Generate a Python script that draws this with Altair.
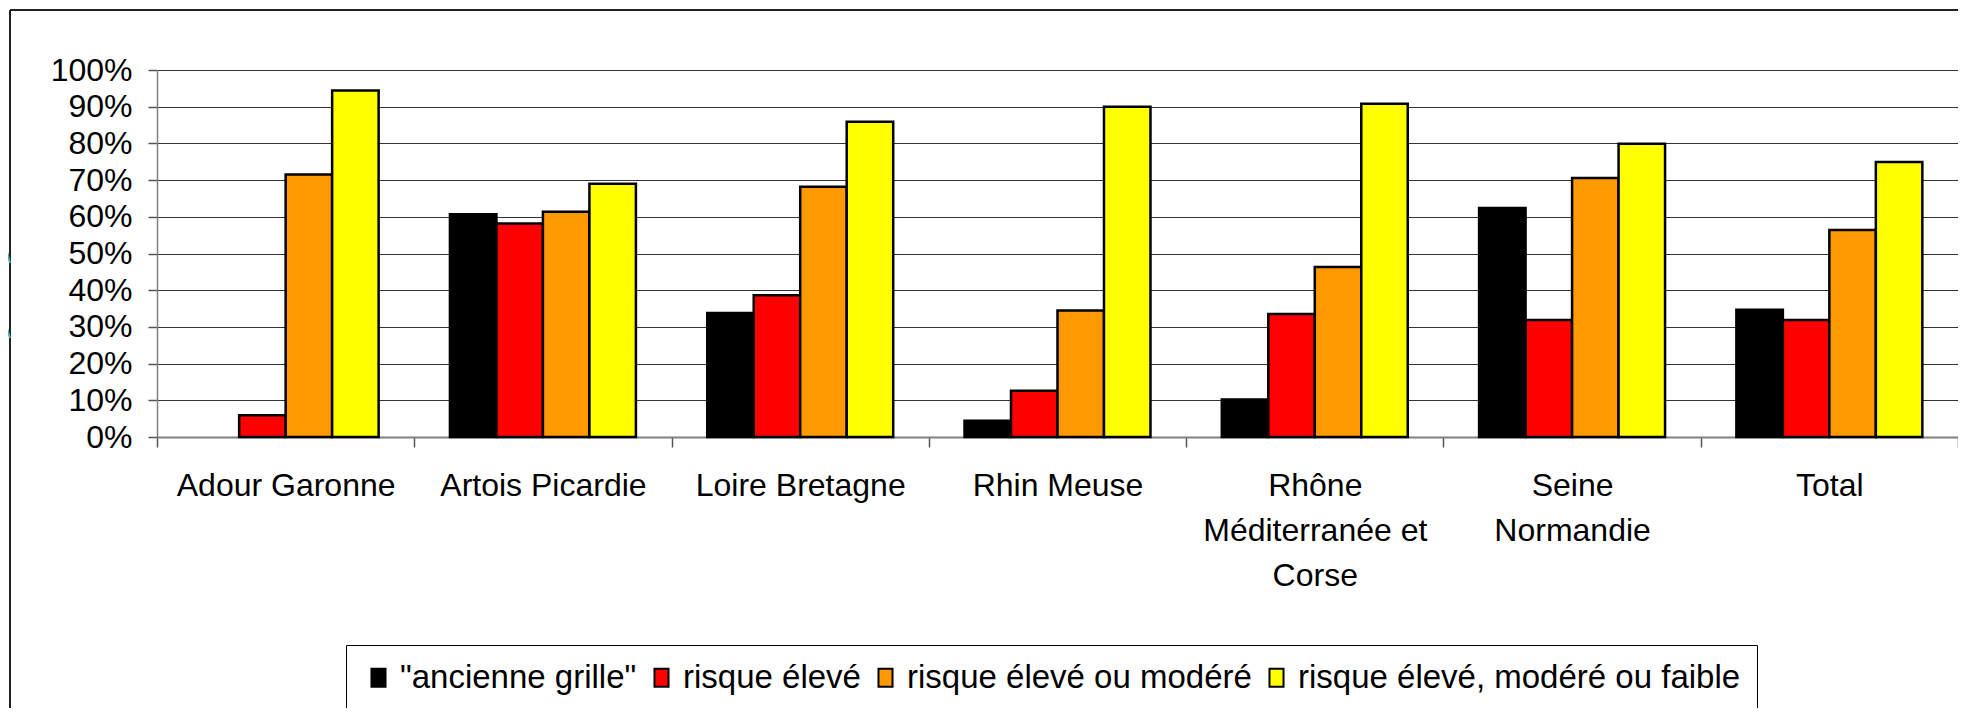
import altair as alt
import pandas as pd

categories = [
    "Adour Garonne",
    "Artois Picardie",
    "Loire Bretagne",
    "Rhin Meuse",
    "Rhône Méditerranée et Corse",
    "Seine Normandie",
    "Total",
]
series = [
    '"ancienne grille"',
    "risque élevé",
    "risque élevé ou modéré",
    "risque élevé, modéré ou faible",
]
colors = ["#000000", "#FF0000", "#FF9900", "#FFFF00"]

ancienne_grille = [0.0, 0.607, 0.338, 0.044, 0.102, 0.624, 0.347]
risque_eleve = [0.059, 0.582, 0.386, 0.126, 0.335, 0.319, 0.319]
risque_eleve_modere = [0.715, 0.614, 0.682, 0.345, 0.463, 0.706, 0.564]
risque_eleve_modere_faible = [0.944, 0.690, 0.859, 0.900, 0.908, 0.799, 0.749]

y_ticks = [0, 0.1, 0.2, 0.3, 0.4, 0.5, 0.6, 0.7, 0.8, 0.9, 1.0]

rows = []
for s, vals in zip(series, [ancienne_grille, risque_eleve, risque_eleve_modere, risque_eleve_modere_faible]):
    for c, v in zip(categories, vals):
        rows.append({"bassin": c, "serie": s, "valeur": v})
df = pd.DataFrame(rows)

FONT = "Liberation Sans"
W, H = 1801, 367

label_expr = (
    "datum.label == 'Rhône Méditerranée et Corse' ? ['Rhône', 'Méditerranée et', 'Corse'] : "
    "datum.label == 'Seine Normandie' ? ['Seine', 'Normandie'] : datum.label"
)

bars = (
    alt.Chart(df)
    .transform_filter("datum.valeur > 0")
    .mark_bar(stroke="black", strokeWidth=2.5)
    .encode(
        x=alt.X(
            "bassin:N",
            sort=categories,
            scale=alt.Scale(paddingInner=0, paddingOuter=0),
            axis=alt.Axis(
                title=None,
                labelAngle=0,
                labelFont=FONT,
                labelFontSize=32,
                labelColor="black",
                labelPadding=23,
                labelLineHeight=45,
                labelLimit=400,
                labelExpr=label_expr,
                labelOverlap=False,
                tickBand="extent",
                tickSize=10,
                tickColor="#555555",
                tickWidth=1.5,
                domainColor="#808080",
                domainWidth=2,
                grid=False,
            ),
        ),
        xOffset=alt.XOffset(
            "serie:N",
            sort=series,
            scale=alt.Scale(paddingInner=0, paddingOuter=0.767),
        ),
        y=alt.Y(
            "valeur:Q",
            scale=alt.Scale(domain=[0, 1], nice=False),
            axis=alt.Axis(
                title=None,
                values=y_ticks,
                format=".0%",
                labelFont=FONT,
                labelFontSize=32,
                labelColor="black",
                labelPadding=16,
                tickSize=9,
                tickColor="#555555",
                tickWidth=1.5,
                domainColor="#808080",
                domainWidth=1.5,
                grid=True,
                gridColor="#333333",
                gridWidth=1.2,
            ),
        ),
        color=alt.Color(
            "serie:N",
            sort=series,
            scale=alt.Scale(domain=series, range=colors),
            legend=alt.Legend(
                title=None,
                orient="none",
                direction="horizontal",
                legendX=189,
                legendY=575,
                labelFont=FONT,
                labelFontSize=33,
                labelColor="black",
                labelLimit=600,
                labelOffset=5,
                columnPadding=8,
                symbolType="M-0.78,-1L0.78,-1L0.78,1L-0.78,1Z",
                symbolSize=324,
                symbolStrokeColor="black",
                symbolStrokeWidth=2,
                padding=16,
                strokeColor="black",
            ),
        ),
    )
)

one = pd.DataFrame({"k": [0]})

frame_top = alt.Chart(one).mark_rule(color="#222222", strokeWidth=2).encode(
    x=alt.value(-147), x2=alt.value(1830), y=alt.value(-60)
)
frame_left = alt.Chart(one).mark_rule(color="#222222", strokeWidth=2).encode(
    x=alt.value(-147), y=alt.value(-60), y2=alt.value(700)
)
teal1 = alt.Chart(one).mark_rule(color="#4BACC6", strokeWidth=2).encode(
    x=alt.value(-157), x2=alt.value(-147), y=alt.value(155), y2=alt.value(193)
)
teal2 = alt.Chart(one).mark_rule(color="#4BACC6", strokeWidth=2).encode(
    x=alt.value(-157), x2=alt.value(-147), y=alt.value(235), y2=alt.value(268)
)

chart = (
    alt.layer(bars, frame_top, frame_left, teal1, teal2)
    .properties(
        width=W,
        height=H,
        autosize=alt.AutoSizeParams(type="none"),
        padding={"left": 149, "top": 62, "right": 0, "bottom": 271},
        background="white",
    )
    .configure_view(strokeWidth=0)
)

chart.save("out.html", embed_options={"renderer": "svg", "actions": False})
